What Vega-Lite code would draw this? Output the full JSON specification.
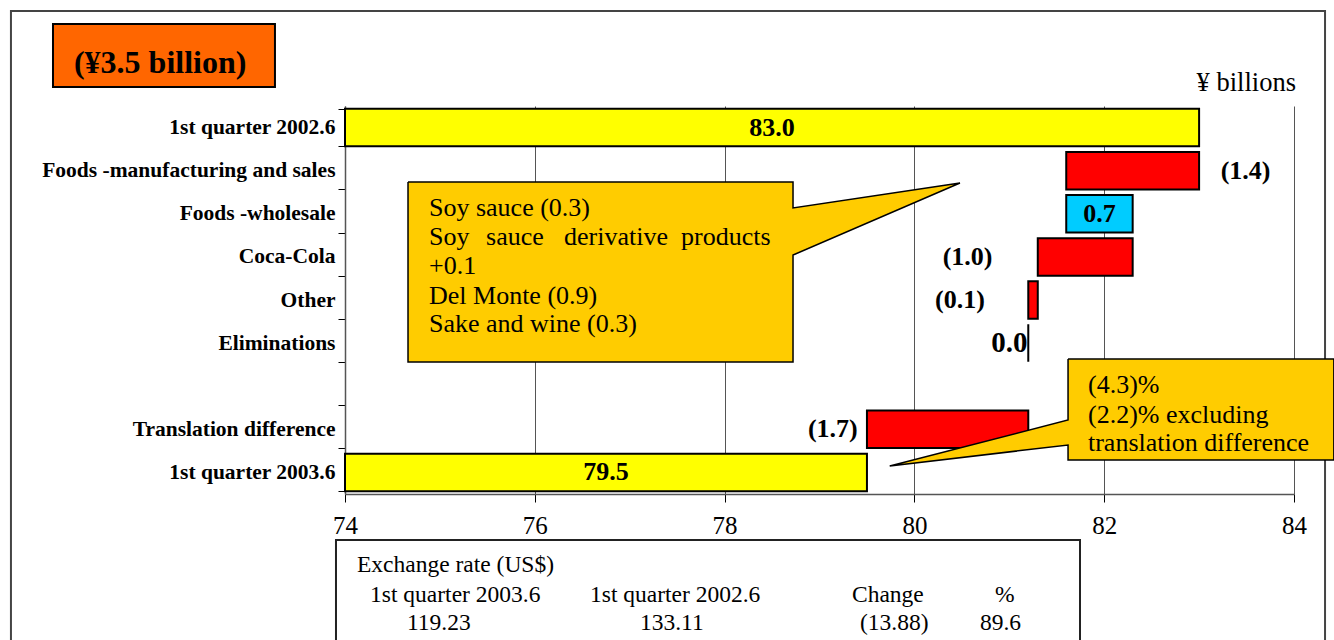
{
  "$schema": "https://vega.github.io/schema/vega-lite/v6.json",
  "width": 949,
  "height": 388,
  "autosize": {"type": "none"},
  "padding": {"left": 345, "top": 106, "right": 40, "bottom": 146},
  "background": "white",
  "config": {
    "font": "Liberation Serif, Times New Roman, serif",
    "view": {"stroke": null},
    "mark": {"font": "Liberation Serif, Times New Roman, serif"},
    "text": {"font": "Liberation Serif, Times New Roman, serif", "color": "#000"},
    "axisX": {
      "grid": true, "gridColor": "#555", "gridWidth": 1, "domainColor": "#555", "domainWidth": 1.5,
      "tickColor": "#000", "tickSize": 8, "tickCount": 5, "labelFontSize": 25, "labelColor": "#000",
      "labelPadding": 11, "labelFont": "Liberation Serif, Times New Roman, serif", "labelFlush": false, "labelOverlap": false
    }
  },
  "datasets": {
    "bars": [
      {"item": "1st quarter 2002.6", "start": 74, "end": 83.0, "kind": "total", "label": "83.0", "labelX": 78.5},
      {"item": "Foods -manufacturing and sales", "start": 81.6, "end": 83.0, "kind": "decrease", "label": "(1.4)", "labelX": 83.49},
      {"item": "Foods -wholesale", "start": 81.6, "end": 82.3, "kind": "increase", "label": "0.7", "labelX": 81.95},
      {"item": "Coca-Cola", "start": 81.3, "end": 82.3, "kind": "decrease", "label": "(1.0)", "labelX": 80.56},
      {"item": "Other", "start": 81.2, "end": 81.3, "kind": "decrease", "label": "(0.1)", "labelX": 80.48},
      {"item": "Eliminations", "start": 81.2, "end": 81.2, "kind": "zero", "label": "0.0", "labelX": 81.0},
      {"item": "Translation difference", "start": 79.5, "end": 81.2, "kind": "decrease", "label": "(1.7)", "labelX": 79.14},
      {"item": "1st quarter 2003.6", "start": 74, "end": 79.5, "kind": "total", "label": "79.5", "labelX": 76.75}
    ],
    "frame": [{"x": 70.48, "x2": 84.327, "y": -2.204, "y2": 13.78}],
    "titlebox": [{"x": 70.923, "x2": 73.262, "y": -1.902, "y2": -0.441}],
    "tablebox": [{"x": 73.905, "x2": 81.745, "y": 10.067, "y2": 13.78}],
    "callouts": [
      {"shape": "a", "i": 0, "x": 74.664, "y": 1.763},
      {"shape": "a", "i": 1, "x": 78.721, "y": 1.763},
      {"shape": "a", "i": 2, "x": 78.721, "y": 2.366},
      {"shape": "a", "i": 3, "x": 80.48, "y": 1.786},
      {"shape": "a", "i": 4, "x": 78.721, "y": 3.456},
      {"shape": "a", "i": 5, "x": 78.721, "y": 5.938},
      {"shape": "a", "i": 6, "x": 74.664, "y": 5.938},
      {"shape": "a", "i": 7, "x": 74.664, "y": 1.763},
      {"shape": "b", "i": 0, "x": 81.619, "y": 5.869},
      {"shape": "b", "i": 1, "x": 84.42, "y": 5.869},
      {"shape": "b", "i": 2, "x": 84.42, "y": 8.211},
      {"shape": "b", "i": 3, "x": 81.619, "y": 8.211},
      {"shape": "b", "i": 4, "x": 81.619, "y": 7.863},
      {"shape": "b", "i": 5, "x": 79.74, "y": 8.35},
      {"shape": "b", "i": 6, "x": 81.619, "y": 7.284},
      {"shape": "b", "i": 7, "x": 81.619, "y": 5.869}
    ],
    "calloutText": [
      {"x": 74.885, "y": 2.366, "text": "Soy sauce (0.3)"},
      {"x": 74.885, "y": 3.039, "text": "Soy"},
      {"x": 75.486, "y": 3.039, "text": "sauce"},
      {"x": 76.308, "y": 3.039, "text": "derivative"},
      {"x": 77.541, "y": 3.039, "text": "products"},
      {"x": 74.885, "y": 3.711, "text": "+0.1"},
      {"x": 74.885, "y": 4.407, "text": "Del Monte (0.9)"},
      {"x": 74.885, "y": 5.057, "text": "Sake and wine (0.3)"},
      {"x": 81.829, "y": 6.472, "text": "(4.3)%"},
      {"x": 81.829, "y": 7.168, "text": "(2.2)% excluding"},
      {"x": 81.829, "y": 7.817, "text": "translation difference"}
    ],
    "titleText": [{"x": 71.144, "y": -1.0, "text": "(¥3.5 billion)"}],
    "unitText": [{"x": 84.021, "y": -0.534, "text": "¥ billions"}],
    "tableText": [
      {"x": 74.126, "y": 10.64, "text": "Exchange rate (US$)"},
      {"x": 74.264, "y": 11.34, "text": "1st quarter 2003.6"},
      {"x": 76.582, "y": 11.34, "text": "1st quarter 2002.6"},
      {"x": 79.342, "y": 11.34, "text": "Change"},
      {"x": 80.849, "y": 11.34, "text": "%"},
      {"x": 74.653, "y": 12.0, "text": "119.23"},
      {"x": 77.108, "y": 12.0, "text": "133.11"},
      {"x": 79.427, "y": 12.0, "text": "(13.88)"},
      {"x": 80.69, "y": 12.0, "text": "89.6"}
    ]
  },
  "resolve": {"scale": {"y": "independent"}, "axis": {"y": "independent"}},
  "layer": [
    {
      "data": {"name": "bars"},
      "mark": {"type": "bar", "stroke": "#000", "strokeWidth": 2},
      "encoding": {
        "x": {
          "field": "start", "type": "quantitative",
          "scale": {"domain": [74, 84], "nice": false, "zero": false},
          "axis": {"title": null}
        },
        "x2": {"field": "end"},
        "y": {
          "field": "item", "type": "nominal",
          "scale": {
            "domain": ["1st quarter 2002.6", "Foods -manufacturing and sales", "Foods -wholesale", "Coca-Cola", "Other", "Eliminations", "gap", "Translation difference", "1st quarter 2003.6"],
            "paddingInner": 0.13, "paddingOuter": 0.065
          },
          "axis": {
            "title": null, "tickBand": "extent", "tickSize": 7, "tickColor": "#000",
            "domainColor": "#555", "domainWidth": 1.5, "labelFontSize": 21.5, "labelFontWeight": "bold",
            "labelColor": "#000", "labelPadding": 3, "labelFont": "Liberation Serif, Times New Roman, serif", "labelLimit": 400,
            "labelExpr": "datum.value == 'gap' ? '' : datum.value"
          }
        },
        "color": {
          "field": "kind", "type": "nominal", "legend": null,
          "scale": {"domain": ["total", "decrease", "increase", "zero"], "range": ["#FFFF00", "#FF0000", "#00CCFF", "#000000"]}
        }
      }
    },
    {
      "data": {"name": "frame"},
      "mark": {"type": "rect", "fill": "transparent", "stroke": "#444", "strokeWidth": 2},
      "encoding": {
        "x": {"field": "x", "type": "quantitative", "scale": {"domain": [74, 84], "nice": false, "zero": false}, "axis": {"title": null}},
        "x2": {"field": "x2"},
        "y": {"field": "y", "type": "quantitative", "scale": {"domain": [0, 9], "reverse": true, "nice": false, "zero": false}, "axis": null},
        "y2": {"field": "y2"}
      }
    },
    {
      "data": {"name": "bars"},
      "mark": {"type": "text", "font": "Liberation Serif, Times New Roman, serif", "fontWeight": "bold", "baseline": "middle", "align": "center"},
      "encoding": {
        "x": {"field": "labelX", "type": "quantitative", "scale": {"domain": [74, 84], "nice": false, "zero": false}, "axis": {"title": null}},
        "y": {
          "field": "item", "type": "nominal",
          "scale": {
            "domain": ["1st quarter 2002.6", "Foods -manufacturing and sales", "Foods -wholesale", "Coca-Cola", "Other", "Eliminations", "gap", "Translation difference", "1st quarter 2003.6"],
            "paddingInner": 0.13, "paddingOuter": 0.065
          },
          "axis": null
        },
        "text": {"field": "label"},
        "size": {"condition": {"test": "datum.label == '0.0'", "value": 29}, "value": 26}
      }
    },
    {
      "data": {"name": "callouts"},
      "mark": {"type": "line", "fill": "#FFCC00", "stroke": "#000", "strokeWidth": 1.5, "interpolate": "linear"},
      "encoding": {
        "x": {"field": "x", "type": "quantitative", "scale": {"domain": [74, 84], "nice": false, "zero": false}, "axis": {"title": null}},
        "y": {"field": "y", "type": "quantitative", "scale": {"domain": [0, 9], "reverse": true, "nice": false, "zero": false}, "axis": null},
        "detail": {"field": "shape", "type": "nominal"},
        "order": {"field": "i", "type": "quantitative"}
      }
    },
    {
      "data": {"name": "calloutText"},
      "mark": {"type": "text", "font": "Liberation Serif, Times New Roman, serif", "align": "left", "baseline": "middle", "fontSize": 26},
      "encoding": {
        "x": {"field": "x", "type": "quantitative", "scale": {"domain": [74, 84], "nice": false, "zero": false}, "axis": {"title": null}},
        "y": {"field": "y", "type": "quantitative", "scale": {"domain": [0, 9], "reverse": true, "nice": false, "zero": false}, "axis": null},
        "text": {"field": "text"}
      }
    },
    {
      "data": {"name": "titlebox"},
      "mark": {"type": "rect", "fill": "#FF6600", "stroke": "#000", "strokeWidth": 2},
      "encoding": {
        "x": {"field": "x", "type": "quantitative", "scale": {"domain": [74, 84], "nice": false, "zero": false}, "axis": {"title": null}},
        "x2": {"field": "x2"},
        "y": {"field": "y", "type": "quantitative", "scale": {"domain": [0, 9], "reverse": true, "nice": false, "zero": false}, "axis": null},
        "y2": {"field": "y2"}
      }
    },
    {
      "data": {"name": "titleText"},
      "mark": {"type": "text", "font": "Liberation Serif, Times New Roman, serif", "align": "left", "baseline": "middle", "fontSize": 32, "fontWeight": "bold"},
      "encoding": {
        "x": {"field": "x", "type": "quantitative", "scale": {"domain": [74, 84], "nice": false, "zero": false}, "axis": {"title": null}},
        "y": {"field": "y", "type": "quantitative", "scale": {"domain": [0, 9], "reverse": true, "nice": false, "zero": false}, "axis": null},
        "text": {"field": "text"}
      }
    },
    {
      "data": {"name": "unitText"},
      "mark": {"type": "text", "font": "Liberation Serif, Times New Roman, serif", "align": "right", "baseline": "middle", "fontSize": 26.5},
      "encoding": {
        "x": {"field": "x", "type": "quantitative", "scale": {"domain": [74, 84], "nice": false, "zero": false}, "axis": {"title": null}},
        "y": {"field": "y", "type": "quantitative", "scale": {"domain": [0, 9], "reverse": true, "nice": false, "zero": false}, "axis": null},
        "text": {"field": "text"}
      }
    },
    {
      "data": {"name": "tablebox"},
      "mark": {"type": "rect", "fill": "transparent", "stroke": "#222", "strokeWidth": 2},
      "encoding": {
        "x": {"field": "x", "type": "quantitative", "scale": {"domain": [74, 84], "nice": false, "zero": false}, "axis": {"title": null}},
        "x2": {"field": "x2"},
        "y": {"field": "y", "type": "quantitative", "scale": {"domain": [0, 9], "reverse": true, "nice": false, "zero": false}, "axis": null},
        "y2": {"field": "y2"}
      }
    },
    {
      "data": {"name": "tableText"},
      "mark": {"type": "text", "font": "Liberation Serif, Times New Roman, serif", "align": "left", "baseline": "middle", "fontSize": 23.5},
      "encoding": {
        "x": {"field": "x", "type": "quantitative", "scale": {"domain": [74, 84], "nice": false, "zero": false}, "axis": {"title": null}},
        "y": {"field": "y", "type": "quantitative", "scale": {"domain": [0, 9], "reverse": true, "nice": false, "zero": false}, "axis": null},
        "text": {"field": "text"}
      }
    }
  ]
}
